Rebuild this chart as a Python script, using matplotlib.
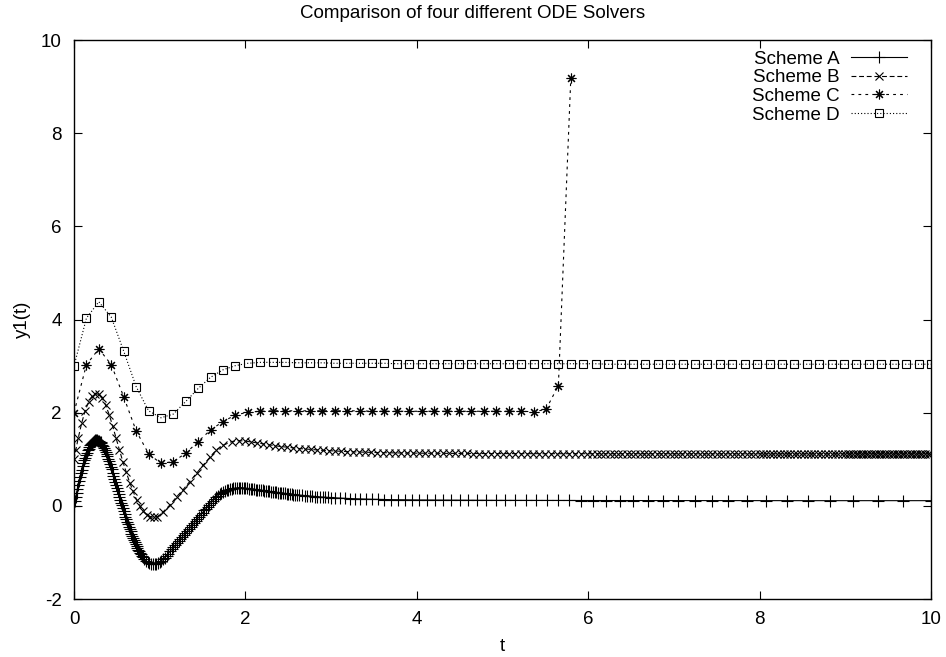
import matplotlib
matplotlib.use('Agg')
import matplotlib.pyplot as plt

# Scheme A: adaptive step, very fine at start
A_t_start = [0.00, 0.01, 0.02, 0.03, 0.04, 0.05, 0.06, 0.07, 0.08, 0.09,
             0.10, 0.11, 0.12, 0.13, 0.14, 0.15, 0.16, 0.17, 0.18, 0.19,
             0.20, 0.21, 0.22, 0.23, 0.24, 0.25, 0.26, 0.27, 0.28, 0.29,
             0.30, 0.31, 0.32, 0.33, 0.34, 0.35, 0.36, 0.37, 0.38, 0.39,
             0.40, 0.41, 0.42, 0.43, 0.44, 0.45, 0.46, 0.47, 0.48, 0.49,
             0.50, 0.51, 0.52, 0.53, 0.54, 0.55, 0.56, 0.57, 0.58, 0.59,
             0.60, 0.61, 0.62, 0.63, 0.64, 0.65, 0.66, 0.67, 0.68, 0.69,
             0.70, 0.71, 0.72, 0.73, 0.74, 0.75, 0.76, 0.77, 0.78, 0.79,
             0.80]
A_y_start = [0.000, 0.095, 0.19, 0.28, 0.37, 0.455, 0.54, 0.62, 0.70, 0.775,
             0.85, 0.915, 0.98, 1.035, 1.09, 1.14, 1.19, 1.23, 1.27, 1.30,
             1.33, 1.35, 1.37, 1.385, 1.40, 1.405, 1.41, 1.405, 1.40, 1.39,
             1.38, 1.36, 1.34, 1.31, 1.28, 1.24, 1.20, 1.155, 1.11, 1.06,
             1.01, 0.955, 0.90, 0.84, 0.78, 0.715, 0.65, 0.585, 0.52, 0.455,
             0.39, 0.325, 0.26, 0.195, 0.13, 0.07, 0.01, -0.05, -0.11, -0.17,
             -0.23, -0.285, -0.34, -0.395, -0.45, -0.50, -0.55, -0.60, -0.65, -0.695,
             -0.74, -0.785, -0.83, -0.87, -0.91, -0.945, -0.98, -1.01, -1.04, -1.07,
             -1.10]
A_t_mid = [0.82, 0.84, 0.86, 0.88, 0.90, 0.92, 0.94, 0.96, 0.98, 1.00,
           1.02, 1.04, 1.06, 1.08, 1.10, 1.12, 1.14, 1.16, 1.18, 1.20,
           1.22, 1.24, 1.26, 1.28, 1.30, 1.32, 1.34, 1.36, 1.38, 1.40,
           1.42, 1.44, 1.46, 1.48, 1.50, 1.52, 1.54, 1.56, 1.58, 1.60,
           1.62, 1.64, 1.66, 1.68, 1.70, 1.72, 1.74, 1.76, 1.78, 1.80,
           1.82, 1.84, 1.86, 1.88, 1.90, 1.92, 1.94, 1.96, 1.98, 2.00,
           2.02, 2.04, 2.06, 2.08, 2.10, 2.12, 2.14, 2.16, 2.18, 2.20,
           2.22, 2.24, 2.26, 2.28, 2.30, 2.32, 2.34, 2.36, 2.38, 2.40,
           2.42, 2.44, 2.46, 2.48, 2.50, 2.52, 2.54, 2.56, 2.58, 2.60]
A_y_mid = [-1.145, -1.18, -1.205, -1.225, -1.24, -1.25, -1.255, -1.25, -1.235, -1.21,
           -1.18, -1.15, -1.11, -1.07, -1.025, -0.98, -0.935, -0.89, -0.845, -0.80,
           -0.76, -0.72, -0.675, -0.63, -0.59, -0.55, -0.505, -0.46, -0.415, -0.37,
           -0.325, -0.28, -0.235, -0.19, -0.145, -0.10, -0.06, -0.02, 0.025, 0.07,
           0.11, 0.15, 0.185, 0.22, 0.25, 0.28, 0.30, 0.32, 0.335, 0.35,
           0.36, 0.37, 0.375, 0.38, 0.385, 0.39, 0.39, 0.39, 0.385, 0.38,
           0.375, 0.37, 0.365, 0.36, 0.355, 0.35, 0.345, 0.34, 0.335, 0.33,
           0.325, 0.32, 0.315, 0.31, 0.305, 0.30, 0.295, 0.29, 0.285, 0.28,
           0.275, 0.27, 0.265, 0.26, 0.255, 0.25, 0.245, 0.24, 0.237, 0.235]
A_t_end = [2.63, 2.66, 2.69, 2.72, 2.75, 2.78, 2.81, 2.84, 2.87, 2.90,
           2.93, 2.96, 3.00, 3.05, 3.10, 3.16, 3.22, 3.28, 3.34, 3.41,
           3.48, 3.55, 3.62, 3.70, 3.78, 3.86, 3.94, 4.03, 4.12, 4.21,
           4.30, 4.40, 4.50, 4.60, 4.70, 4.81, 4.92, 5.03, 5.15, 5.27,
           5.39, 5.52, 5.65, 5.78, 5.92, 6.06, 6.21, 6.37, 6.52, 6.70,
           6.87, 7.05, 7.25, 7.44, 7.63, 7.85, 8.08, 8.32, 8.57, 8.82,
           9.09, 9.38, 9.67, 10.0]
A_y_end = [0.230, 0.225, 0.220, 0.215, 0.210, 0.205, 0.200, 0.196, 0.192, 0.188,
           0.184, 0.180, 0.176, 0.171, 0.166, 0.161, 0.156, 0.152, 0.148, 0.144,
           0.141, 0.138, 0.135, 0.133, 0.131, 0.129, 0.127, 0.126, 0.125, 0.124,
           0.123, 0.122, 0.121, 0.120, 0.119, 0.119, 0.118, 0.118, 0.117, 0.117,
           0.116, 0.116, 0.115, 0.115, 0.114, 0.114, 0.114, 0.113, 0.113, 0.113,
           0.113, 0.112, 0.112, 0.112, 0.112, 0.112, 0.111, 0.111, 0.111, 0.111,
           0.111, 0.111, 0.111, 0.111]

# Scheme B, in pieces
B_t_start = [0.00, 0.02, 0.05, 0.09, 0.13, 0.17, 0.21, 0.25, 0.29, 0.33,
             0.37, 0.41, 0.45, 0.49, 0.53, 0.57, 0.61, 0.65, 0.69, 0.73,
             0.77, 0.81, 0.85, 0.89, 0.93, 0.97,
             1.04, 1.12, 1.20, 1.27, 1.35, 1.43, 1.51, 1.59, 1.66, 1.74,
             1.84, 1.92]
B_y_start = [1.00, 1.19, 1.46, 1.78, 2.04, 2.23, 2.35, 2.41, 2.39, 2.31,
             2.16, 1.96, 1.72, 1.46, 1.20, 0.95, 0.72, 0.50, 0.31, 0.13,
             -0.01, -0.12, -0.19, -0.23, -0.25, -0.24,
             -0.13, 0.02, 0.20, 0.34, 0.52, 0.70, 0.88, 1.05, 1.20, 1.30,
             1.38, 1.40]
B_t_mid = [2.00, 2.07, 2.14, 2.21, 2.28, 2.35, 2.42, 2.49, 2.56, 2.63,
           2.70, 2.77, 2.84, 2.91, 2.98, 3.05, 3.12, 3.19, 3.26, 3.33,
           3.40, 3.47, 3.54, 3.61, 3.68, 3.75, 3.82, 3.89, 3.96, 4.03,
           4.10, 4.17, 4.24, 4.31, 4.38, 4.45, 4.52, 4.59, 4.66, 4.73,
           4.80, 4.87, 4.94, 5.01, 5.08, 5.15, 5.22, 5.29, 5.36, 5.43,
           5.50, 5.57, 5.64, 5.71, 5.78, 5.85, 5.92, 5.99]
B_y_mid = [1.39, 1.37, 1.35, 1.33, 1.31, 1.29, 1.27, 1.26, 1.245, 1.23,
           1.22, 1.21, 1.20, 1.19, 1.183, 1.176, 1.170, 1.164, 1.159, 1.155,
           1.151, 1.147, 1.144, 1.141, 1.138, 1.136, 1.134, 1.132, 1.131, 1.130,
           1.129, 1.128, 1.127, 1.126, 1.125, 1.125, 1.124, 1.124, 1.123, 1.123,
           1.122, 1.122, 1.122, 1.121, 1.121, 1.121, 1.120, 1.120, 1.120, 1.120,
           1.119, 1.119, 1.119, 1.119, 1.118, 1.118, 1.118, 1.118]
B_t_end = [6.05, 6.10, 6.15, 6.20, 6.25, 6.30, 6.35, 6.40, 6.45, 6.50,
           6.55, 6.60, 6.65, 6.70, 6.75, 6.80, 6.85, 6.90, 6.95, 7.00,
           7.05, 7.10, 7.15, 7.20, 7.25, 7.30, 7.35, 7.40, 7.45, 7.50,
           7.55, 7.60, 7.65, 7.70, 7.75, 7.80, 7.85, 7.90, 7.95, 8.00,
           8.04, 8.08, 8.12, 8.16, 8.20, 8.24, 8.28, 8.32, 8.36, 8.40,
           8.44, 8.48, 8.52, 8.56, 8.60, 8.64, 8.68, 8.72, 8.76, 8.80,
           8.84, 8.88, 8.92, 8.96, 9.00,
           9.03, 9.06, 9.09, 9.12, 9.15, 9.18, 9.21, 9.24, 9.27, 9.30,
           9.33, 9.36, 9.39, 9.42, 9.45, 9.48, 9.51, 9.54, 9.57, 9.60,
           9.63, 9.66, 9.69, 9.72, 9.75, 9.78, 9.81, 9.84, 9.87, 9.90,
           9.93, 9.96, 9.99]
B_y_end = [1.118, 1.118, 1.118, 1.118, 1.118, 1.118, 1.118, 1.118, 1.118, 1.118,
           1.118, 1.118, 1.118, 1.118, 1.118, 1.118, 1.118, 1.118, 1.118, 1.118,
           1.117, 1.117, 1.117, 1.117, 1.117, 1.117, 1.117, 1.117, 1.117, 1.117,
           1.117, 1.117, 1.117, 1.117, 1.117, 1.117, 1.117, 1.117, 1.117, 1.117,
           1.117, 1.117, 1.117, 1.117, 1.117, 1.117, 1.117, 1.117, 1.117, 1.117,
           1.117, 1.117, 1.117, 1.117, 1.117, 1.117, 1.117, 1.117, 1.117, 1.117,
           1.117, 1.117, 1.117, 1.117, 1.117,
           1.116, 1.116, 1.116, 1.116, 1.116, 1.116, 1.116, 1.116, 1.116, 1.116,
           1.116, 1.116, 1.116, 1.116, 1.116, 1.116, 1.116, 1.116, 1.116, 1.116,
           1.116, 1.116, 1.116, 1.116, 1.116, 1.116, 1.116, 1.116, 1.116, 1.116,
           1.116, 1.116, 1.116]

# Schemes C and D: fixed step
fixed_t = [0.000, 0.145, 0.290, 0.435, 0.580, 0.725, 0.870, 1.014, 1.159, 1.304,
           1.449, 1.594, 1.739, 1.884, 2.029, 2.174, 2.319, 2.464, 2.609, 2.754,
           2.899, 3.043, 3.188, 3.333, 3.478, 3.623, 3.768, 3.913, 4.058, 4.203,
           4.348, 4.493, 4.638, 4.783, 4.928, 5.072, 5.217, 5.362, 5.507, 5.652,
           5.797, 5.942, 6.087, 6.232, 6.377, 6.522, 6.667, 6.812, 6.957, 7.101,
           7.246, 7.391, 7.536, 7.681, 7.826, 7.971, 8.116, 8.261, 8.406, 8.551,
           8.696, 8.841, 8.986, 9.130, 9.275, 9.420, 9.565, 9.710, 9.855, 10.000]
C_y = [2.00, 3.03, 3.37, 3.03, 2.34, 1.61, 1.12, 0.91, 0.95, 1.13,
       1.38, 1.63, 1.81, 1.95, 2.01, 2.03, 2.04, 2.04, 2.04, 2.04,
       2.04, 2.04, 2.04, 2.04, 2.03, 2.03, 2.03, 2.03, 2.03, 2.03,
       2.03, 2.03, 2.03, 2.03, 2.03, 2.03, 2.03, 2.02, 2.07, 2.58,
       9.18]
D_y = [3.00, 4.03, 4.38, 4.05, 3.32, 2.56, 2.04, 1.89, 1.97, 2.24,
       2.52, 2.76, 2.92, 3.01, 3.06, 3.08, 3.08, 3.08, 3.07, 3.07,
       3.07, 3.06, 3.06, 3.06, 3.06, 3.06, 3.05, 3.05, 3.05, 3.05,
       3.05, 3.05, 3.05, 3.05, 3.05, 3.05, 3.05, 3.05, 3.05, 3.05,
       3.05, 3.05, 3.05, 3.04, 3.04, 3.04, 3.04, 3.04, 3.04, 3.04,
       3.04, 3.04, 3.04, 3.04, 3.04, 3.04, 3.04, 3.04, 3.04, 3.04,
       3.04, 3.04, 3.04, 3.04, 3.04, 3.04, 3.04, 3.04, 3.04, 3.04]

labels = ['Scheme A', 'Scheme B', 'Scheme C', 'Scheme D']
x_ticks = [0, 2, 4, 6, 8, 10]
y_ticks = [-2, 0, 2, 4, 6, 8, 10]


def main():
    plt.rcParams['font.family'] = ['Liberation Sans', 'DejaVu Sans']
    plt.rcParams['font.size'] = 13.5
    plt.rcParams['lines.scale_dashes'] = False
    plt.rcParams['axes.unicode_minus'] = False

    fig = plt.figure(figsize=(9.46, 6.57), dpi=100)
    ax = fig.add_axes([74 / 946, 58 / 657, 857 / 946, 559 / 657])

    A_t = A_t_start + A_t_mid + A_t_end
    A_y = A_y_start + A_y_mid + A_y_end
    B_t = B_t_start + B_t_mid + B_t_end
    B_y = B_y_start + B_y_mid + B_y_end

    lw = 0.8
    ax.plot(A_t, A_y, color='black', lw=lw, ls='-', marker='+',
            ms=8, mew=0.8, label=labels[0])
    ax.plot(B_t, B_y, color='black', lw=lw, ls=(0, (3.5, 2)), marker='x',
            ms=5.5, mew=0.8, label=labels[1])
    ax.plot(fixed_t[:len(C_y)], C_y, color='black', lw=lw, ls=(0, (2, 3)),
            marker=(8, 2, 0), ms=7, mew=0.8, label=labels[2])
    ax.plot(fixed_t, D_y, color='black', lw=lw, ls=(0, (0.8, 1.5)), marker='s',
            ms=6, mew=0.8, mfc='none', mec='black', label=labels[3])

    ax.set_xlim(0, 10)
    ax.set_ylim(-2, 10)
    ax.set_xticks(x_ticks)
    ax.set_yticks(y_ticks)
    ax.tick_params(direction='in', length=6, width=0.8, top=True, right=True,
                   pad=9, labelsize=13.5)
    for s in ax.spines.values():
        s.set_linewidth(1.0)

    # title is centred on the whole figure, not on the axes
    fig.suptitle('Comparison of four different ODE Solvers', fontsize=13.5,
                 x=0.5, y=1 - 14 / 657, va='center')
    ax.set_xlabel('t', fontsize=13.5, labelpad=7)
    ax.set_ylabel('y1(t)', fontsize=13.5, labelpad=7)

    ax.legend(loc='upper right', bbox_to_anchor=(0.972, 0.981), frameon=False,
              markerfirst=False, handlelength=3.0, handletextpad=0.6,
              labelspacing=0.08, borderpad=0, borderaxespad=0, fontsize=13.5)

    fig.savefig('out.png', dpi=100)


if __name__ == '__main__':
    main()
